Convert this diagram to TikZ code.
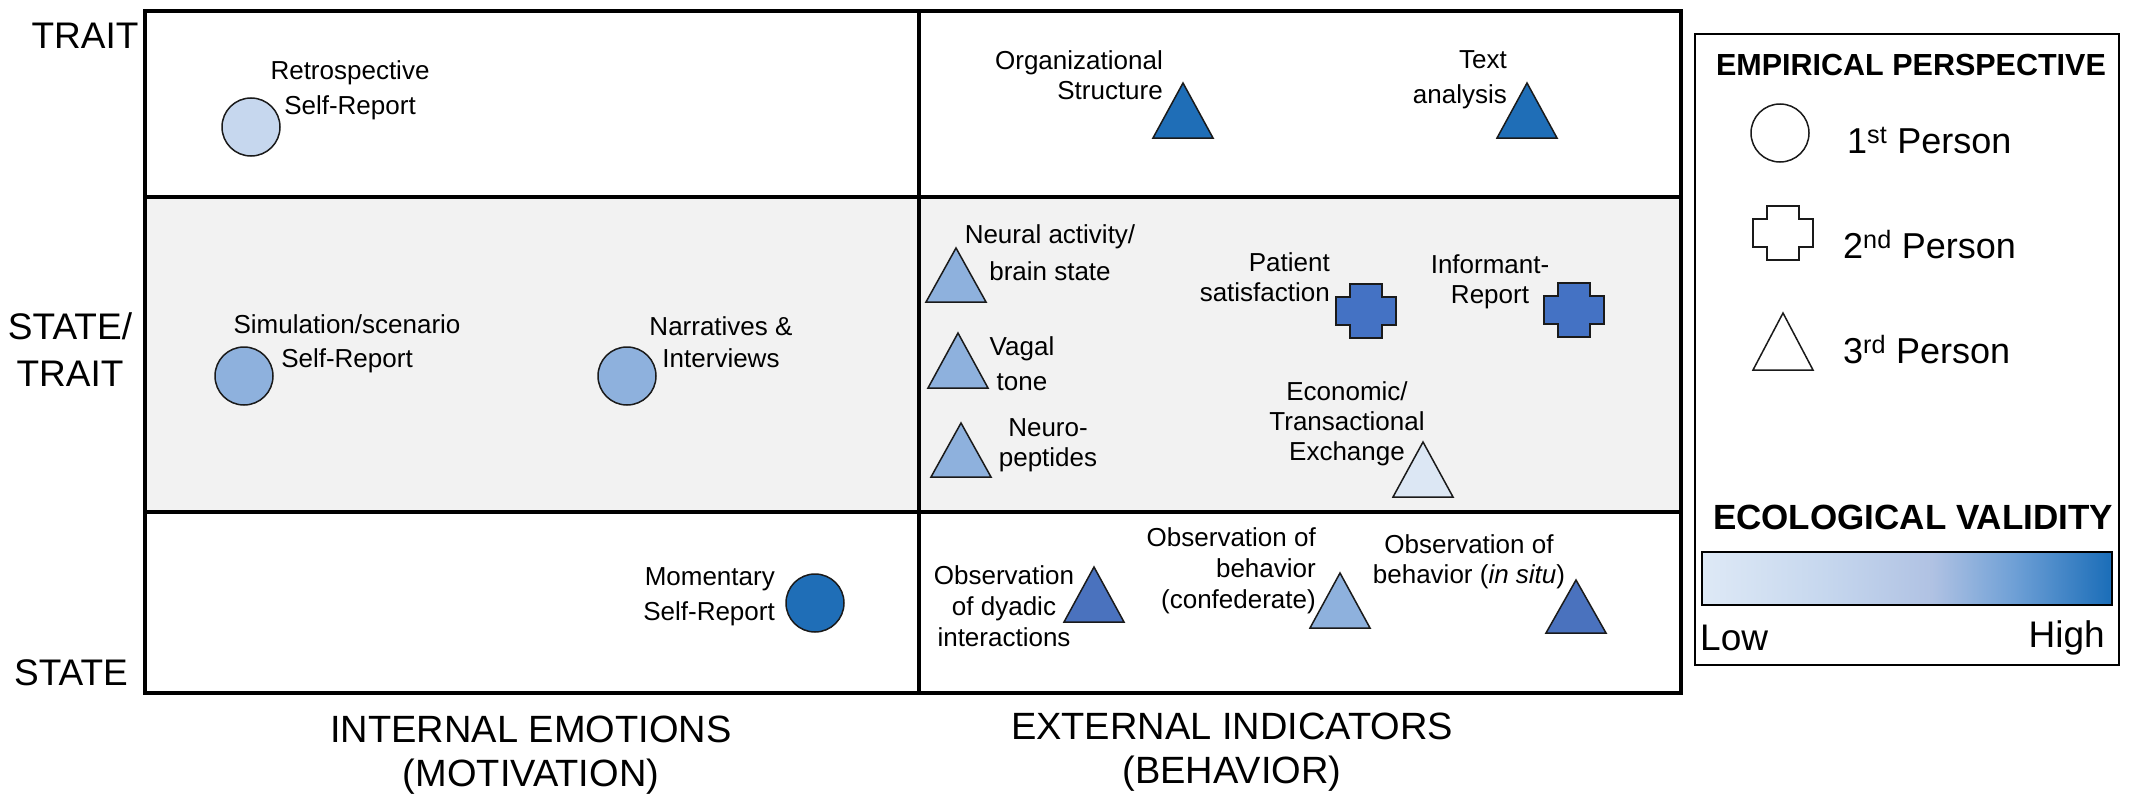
\documentclass[tikz,border=0pt]{standalone}
\usepackage{fontspec}
\setmainfont{Liberation Sans}
\usetikzlibrary{positioning}

\definecolor{palefill}{HTML}{C6D7EE}
\definecolor{midfill}{HTML}{8EB1DD}
\definecolor{darkfill}{HTML}{1F6EB7}
\definecolor{crossfill}{HTML}{4472C4}
\definecolor{deepfill}{HTML}{4A72BE}
\definecolor{faintfill}{HTML}{DCE7F4}
\definecolor{rowgray}{HTML}{F2F2F2}
\definecolor{edgegray}{HTML}{1A1A1A}
\definecolor{gradlow}{HTML}{DEE9F6}
\definecolor{gradmid}{HTML}{B0C2E3}
\definecolor{gradup}{HTML}{6FA0D6}
\definecolor{gradhigh}{HTML}{1A6DB8}

\pgfdeclarehorizontalshading{ecoval}{100bp}{color(0bp)=(gradlow); color(25bp)=(gradlow); color(40bp)=(palefill); color(53bp)=(gradmid); color(63bp)=(gradup); color(75bp)=(gradhigh); color(100bp)=(gradhigh)}

\tikzset{
  shp/.style={draw=edgegray,line width=1.5pt},
  dot/.style={shp,circle,minimum size=58,inner sep=0pt},
  lbl/.style={font=\fontsize{26}{#1}\selectfont,align=center,inner sep=0pt},
  lbl/.default=31,
  axlbl/.style={font=\fontsize{38}{44}\selectfont,align=center,inner sep=0pt},
  rowlbl/.style={font=\fontsize{37}{47}\selectfont,align=center,inner sep=0pt},
  leglbl/.style={font=\fontsize{36}{40}\selectfont,inner sep=0pt},
  legtitle/.style={font=\fontsize{#1}{#1}\selectfont\bfseries,inner sep=0pt}
}

\newcommand{\ftri}[4]{\draw[shp,fill=#4] ({#1-30},#3) -- (#1,#2) -- ({#1+30},#3) -- cycle;}
\newcommand{\fcross}[3]{\draw[shp,fill=#3] ({#1-16},{#2-27}) -- ++(32,0) -- ++(0,13) -- ++(14,0) -- ++(0,28) -- ++(-14,0) -- ++(0,13) -- ++(-32,0) -- ++(0,-13) -- ++(-14,0) -- ++(0,-28) -- ++(14,0) -- cycle;}

\begin{document}
\begin{tikzpicture}[x=1pt,y=-1pt]
\useasboundingbox (0,0) rectangle (2129,808);

% grid
\fill[rowgray] (145,197) rectangle (1681,512);
\draw[line width=4.5pt] (145,11) rectangle (1681,693);
\draw[line width=4.5pt] (145,197) -- (1681,197);
\draw[line width=4.5pt] (145,512) -- (1681,512);
\draw[line width=4.5pt] (919,11) -- (919,693);

% row and column labels
\node[rowlbl] (trait) at (85,36) {TRAIT};
\node[rowlbl] (mixed) at (70,350) {STATE/\\TRAIT};
\node[rowlbl] (state) at (71,673) {STATE};
\node[axlbl] (internal) at (531,755) {INTERNAL EMOTIONS\\(MOTIVATION)};
\node[axlbl] (external) at (1232,752) {EXTERNAL INDICATORS\\(BEHAVIOR)};

% internal emotions
\node[dot,fill=palefill] (retro) at (251,127) {};
\node[lbl=35] (retro-t) at (350,90) {Retrospective\\Self-Report};
\node[dot,fill=midfill] (simul) at (244,376) {};
\node[lbl=34] (simul-t) at (347,344) {Simulation/scenario\\Self-Report};
\node[dot,fill=midfill] (narr) at (627,376) {};
\node[lbl=32] (narr-t) at (721,342) {Narratives \&\\Interviews};
\node[dot,fill=darkfill] (moment) at (815,603) {};
\node[lbl=35,align=right,anchor=east] (moment-t) at (775,597) {Momentary\\Self-Report};

% external indicators
\ftri{1183}{83}{138}{darkfill}
\node[lbl=30,align=right,anchor=east] (org-t) at (1163,75) {Organizational\\Structure};
\ftri{1527}{83}{138}{darkfill}
\node[lbl=35,align=right,anchor=east] (text-t) at (1507,80) {Text\\analysis};
\ftri{956}{248}{302}{midfill}
\node[lbl=37] (neural-t) at (1050,253) {Neural activity/\\brain state};
\ftri{958}{333}{388}{midfill}
\node[lbl=35] (vagal-t) at (1022,364) {Vagal\\tone};
\ftri{961}{423}{477}{midfill}
\node[lbl=30] (neuro-t) at (1048,445) {Neuro-\\peptides};
\fcross{1366}{311}{crossfill}
\node[lbl=30,align=right,anchor=east] (patient-t) at (1330,277) {Patient\\satisfaction};
\fcross{1574}{310}{crossfill}
\node[lbl=30] (inform-t) at (1490,282) {Informant-\\Report};
\ftri{1423}{442}{497}{faintfill}
\node[lbl=30] (econ-t) at (1347,424) {Economic/\\Transactional\\Exchange};
\ftri{1094}{567}{622}{deepfill}
\node[lbl=31] (dyad-t) at (1004,606) {Observation\\of dyadic\\interactions};
\ftri{1340}{573}{628}{midfill}
\node[lbl=31,align=right,anchor=east] (confed-t) at (1316,571) {Observation of\\behavior\\(confederate)};
\ftri{1576}{580}{633}{deepfill}
\node[lbl=30] (situ-t) at (1469,562) {Observation of\\behavior (\textit{in situ})};

% legend
\draw[line width=2pt] (1695,34) rectangle (2119,665);
\node[legtitle=30.5] (persp) at (1911,65) {EMPIRICAL PERSPECTIVE};
\node[dot,fill=white] (first) at (1780,133) {};
\node[leglbl,anchor=base west] (first-t) at (1847,153) {1\textsuperscript{st} Person};
\fcross{1783}{233}{white}
\node[leglbl,anchor=base west] (second-t) at (1843,258) {2\textsuperscript{nd} Person};
\ftri{1783}{313}{370}{white}
\node[leglbl,anchor=base west] (third-t) at (1843,363) {3\textsuperscript{rd} Person};
\node[legtitle=35] (ecoval) at (1913,517) {ECOLOGICAL VALIDITY};
\shade[shading=ecoval] (1702,552) rectangle (2112,605);
\draw[line width=1.8pt] (1702,552) rectangle (2112,605);
\node[leglbl,font=\fontsize{37}{40}\selectfont,anchor=base west] (low) at (1700,650) {Low};
\node[leglbl,font=\fontsize{37}{40}\selectfont,anchor=base east] (high) at (2105,647) {High};
\end{tikzpicture}
\end{document}
